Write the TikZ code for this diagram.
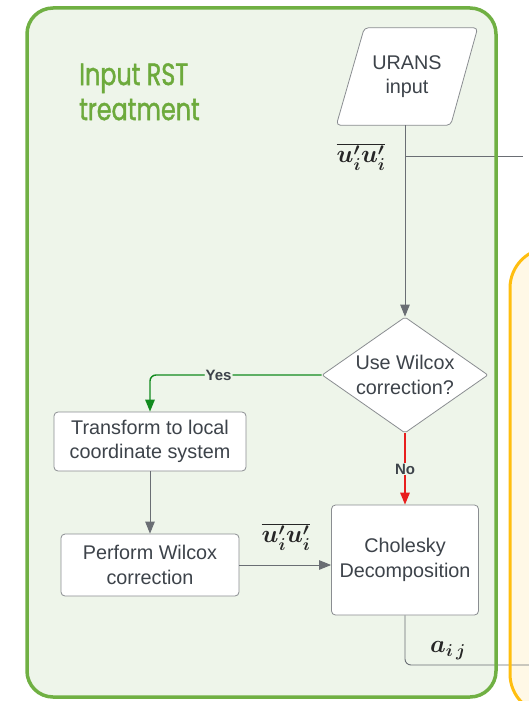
\documentclass[tikz,border=0pt]{standalone}
\usepackage{fontspec}
\setmainfont{Liberation Sans}
\newfontfamily\titlefont[FakeStretch=0.77,FakeBold=1.3]{Poppins}
\usetikzlibrary{arrows.meta,shapes.geometric,backgrounds}

\definecolor{grpfill}{HTML}{EEF5EA}
\definecolor{grpline}{HTML}{70B043}
\definecolor{grptext}{HTML}{6DAA3C}
\definecolor{ylwfill}{HTML}{FFF8E6}
\definecolor{ylwline}{HTML}{FFBE0F}
\definecolor{txt}{HTML}{3D434A}
\definecolor{shapeline}{HTML}{8A8D91}
\definecolor{conn}{HTML}{6A6E74}
\definecolor{yesgreen}{HTML}{118A1E}
\definecolor{nored}{HTML}{E81E1E}

\newcommand\diagfont{\fontsize{19.8}{24.5}\selectfont}

\begin{document}
\begin{tikzpicture}[x=1pt,y=-1pt,
  box/.style={draw=shapeline, fill=white, rounded corners=4pt, line width=0.8pt,
    text=txt, font=\diagfont, align=center, inner sep=0pt},
  outline/.style={draw=shapeline, fill=white, rounded corners=4pt, line width=0.8pt},
  link/.style={draw=conn, line width=0.9pt},
  flag/.style={line width=1.4pt},
  tip/.style={-{Triangle[length=12pt,width=9.5pt]}},
  lbl/.style={text=txt, font=\fontsize{15}{15}\selectfont\bfseries, inner sep=1pt, fill=grpfill},
  mathlbl/.style={text=black!85, font=\fontsize{23}{23}\selectfont\boldmath, inner sep=0pt}
]
\useasboundingbox (0,0) rectangle (529,701);

% group backgrounds
\begin{scope}[on background layer]
  \fill[ylwfill, rounded corners=40pt] (510,248) rectangle (620,714);
  \fill[grpfill, rounded corners=26pt] (27,8) rectangle (496,697);
\end{scope}

% group title
\node[anchor=north west, inner sep=0pt, text=grptext, align=left,
      font=\titlefont\fontsize{31}{35}\selectfont] (title) at (79,63) {Input RST\\treatment};

% flowchart nodes
\node[text=txt, font=\diagfont, align=center, inner sep=0pt,
      minimum width=141pt, minimum height=97pt] (urans) at (407,76.5) {URANS\\input};
\begin{scope}[on background layer]
  \path[outline] ([xshift=28pt]urans.north west) -- (urans.north east)
    -- ([xshift=-27pt]urans.south east) -- (urans.south west) -- cycle;
\end{scope}
\node[box, diamond, rounded corners=2pt, aspect=1.43, minimum width=166pt, minimum height=116pt] (ask) at (405,375) {Use Wilcox\\correction?};
\node[box, minimum width=192pt, minimum height=59pt] (xform) at (150,441.5) {Transform to local\\coordinate system};
\node[box, minimum width=178pt, minimum height=62pt] (wilcox) at (150,565) {Perform Wilcox\\correction};
\node[box, minimum width=147pt, minimum height=110pt] (chol) at (405,560) {Cholesky\\Decomposition};

% connectors
\coordinate (forkout) at (523,156);
\coordinate (aout) at (529,665);
\draw[link, tip] (urans.south -| ask.north) -- (ask.north);
\draw[link] (ask.north |- forkout) -- (forkout);
\node[mathlbl] (rst1) at (361,157) {$\overline{u'_i u'_i}$};

\draw[link, flag, draw=yesgreen, tip, rounded corners=6pt] (ask.west) -| (xform.north)
  node[lbl, pos=0.3] (yes) {Yes};
\draw[link, flag, draw=nored, tip] (ask.south) -- (chol.north) node[lbl, pos=0.5] (no) {No};
\draw[link, tip] (xform.south) -- (wilcox.north);
\draw[link, tip] (wilcox.east) -- (chol.west |- wilcox.east);
\node[mathlbl] (rst2) at (286,537) {$\overline{u'_i u'_i}$};
\draw[link, rounded corners=6pt] (chol.south) |- (aout);
\node[mathlbl, font=\fontsize{24}{24}\selectfont\boldmath] (aij) at (448,651) {$a_{i\,j}$};

% group borders
\draw[ylwline, line width=3pt, rounded corners=40pt] (510,248) rectangle (620,714);
\draw[grpline, line width=3.5pt, rounded corners=26pt] (27,8) rectangle (496,697);
\end{tikzpicture}
\end{document}
